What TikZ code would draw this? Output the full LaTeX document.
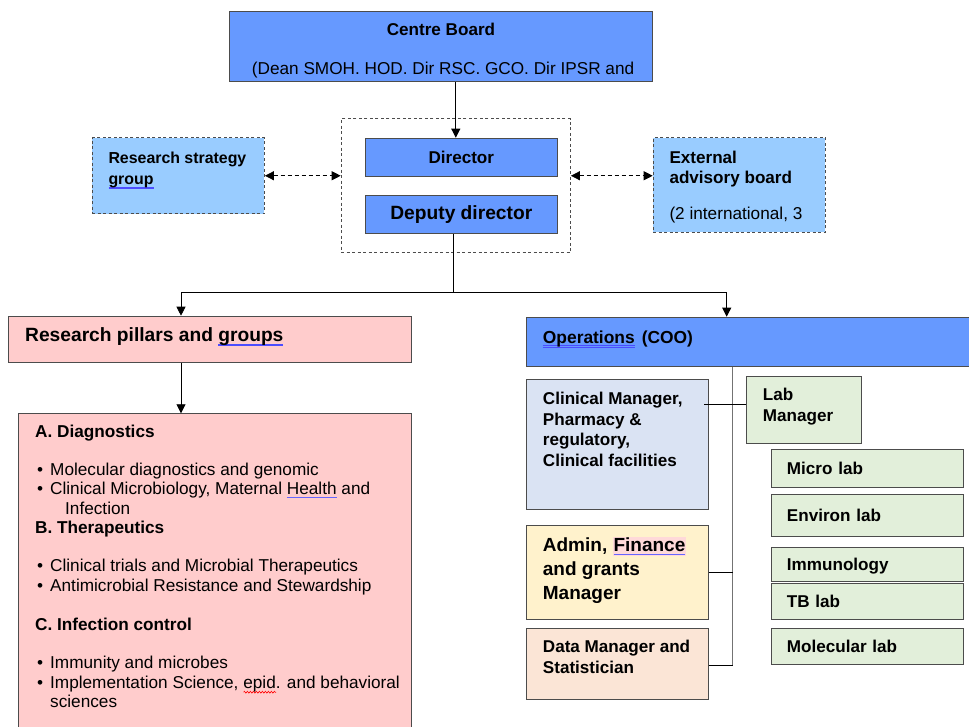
\documentclass[tikz,border=0pt]{standalone}
\usepackage{fontspec}
\setmainfont{Liberation Sans}
\usetikzlibrary{arrows.meta,decorations.pathmorphing}

\definecolor{orgblue}{HTML}{6699FF}
\definecolor{orgsky}{HTML}{99CCFF}
\definecolor{orgpink}{HTML}{FFCCCC}
\definecolor{orgslate}{HTML}{DAE3F3}
\definecolor{orggreen}{HTML}{E2EFDA}
\definecolor{orgcream}{HTML}{FFF2CC}
\definecolor{orgpeach}{HTML}{FBE5D6}

\newsavebox\spellbox
\newcommand\spellul[1]{\sbox\spellbox{#1}\rlap{\textcolor{blue!70}{\rule[-2.6pt]{\wd\spellbox}{0.6pt}\llap{\rule[-4.2pt]{\wd\spellbox}{0.6pt}}}}\usebox\spellbox}
\newcommand\spellone[1]{\sbox\spellbox{#1}\rlap{\textcolor{blue!60}{\rule[-3pt]{\wd\spellbox}{0.8pt}}}\usebox\spellbox}
\newcommand\spellwave[1]{\sbox\spellbox{#1}\rlap{\tikz[baseline=0pt]\draw[red, line width=0.6pt, decorate,
  decoration={zigzag, amplitude=0.9pt, segment length=3pt}] (0pt,-4pt) -- (\wd\spellbox,-4pt);}\usebox\spellbox}
\newcommand\orgitem{\hspace*{2pt}\makebox[13pt][l]{\textbullet}}

\begin{document}
\begin{tikzpicture}[x=1pt, y=-1pt,
  orgbox/.style = {draw=black!70, line width=0.9pt, inner sep=0pt, anchor=north west},
  orgdash/.style = {orgbox, dash pattern=on 3pt off 2.5pt},
  orgtxt/.style = {anchor=base west, inner sep=0pt, align=left, font=\bfseries\fontsize{17.1}{21}\selectfont},
  orgplain/.style = {orgtxt, font=\fontsize{17.2}{19.5}\selectfont},
  orgbig/.style = {orgtxt, font=\bfseries\fontsize{19.2}{24}\selectfont},
  orglab/.style = {orgbox, fill=orggreen, minimum width=192.3, text width=161.3, inner xsep=15.5pt,
    align=left, text height=12pt, text depth=0pt, font=\bfseries\fontsize{17.1}{21}\selectfont},
  orgarrow/.style = {-{Triangle[length=9pt,width=9pt]}, line width=0.8pt},
  orglink/.style = {line width=0.8pt},
  orgdlink/.style = {{Triangle[length=9pt,width=9pt]}-{Triangle[length=9pt,width=9pt]},
    line width=0.8pt, dash pattern=on 4pt off 3pt}
]
  \useasboundingbox (0,0) rectangle (969,726);
  \clip (0,0) rectangle (969,726);
  % board
  \node[orgbox, fill=orgblue, minimum width=422.7, minimum height=70.6] (board) at (229.3,10.7) {};
  \node[orgtxt, anchor=base] (boardname) at (441,35.5) {Centre Board};
  \node[orgplain] (boardlist) at (251.7,74) {(Dean SMOH. HOD. Dir RSC. GCO. Dir IPSR and};
  % directors
  \node[orgdash, minimum width=229.3, minimum height=134] (lead) at (340.7,118.3) {};
  \node[orgbox, fill=orgblue, minimum width=191.7, minimum height=38.3,
    font=\bfseries\fontsize{17.1}{21}\selectfont] (dir) at (365,137.7) {Director};
  \node[orgbox, fill=orgblue, minimum width=191.7, minimum height=38.3,
    font=\bfseries\fontsize{19.2}{24}\selectfont] (dep) at (365,195) {Deputy director};
  \draw[orgarrow] (board.south -| lead.north) -- (lead.north |- dir.north);
  % side groups (multi-line texts sit on their last baseline)
  \node[orgdash, fill=orgsky, minimum width=172.3, minimum height=76] (strategy) at (91.7,137.3) {};
  \node[orgtxt, font=\bfseries\fontsize{15.9}{21}\selectfont] (strategytxt) at (108.3,184.5)
    {Research strategy\\\spellul{group}};
  \node[orgdash, fill=orgsky, minimum width=172.3, minimum height=94.4] (advisory) at (652.7,137.3) {};
  \node[orgtxt, font=\bfseries\fontsize{17.1}{19.5}\selectfont] (advisorytxt) at (669.3,183)
    {External\\advisory board};
  \node[orgplain] (advisorynote) at (669.3,219) {(2 international, 3};
  \draw[orgdlink] (strategy.east) -- (strategy.east -| lead.west);
  \draw[orgdlink] (lead.east |- strategy.east) -- (strategy.east -| advisory.west);
  % split to pillars and operations
  \coordinate (split) at (453.5,292);
  \coordinate (lefttap) at (181,292);
  \coordinate (righttap) at (726.7,292);
  \draw[orglink] (dep.south -| split) -- (split);
  \draw[orglink] (lefttap) -- (righttap);
  % research pillars
  \node[orgbox, fill=orgpink, minimum width=402.4, minimum height=46] (pillars) at (8.3,315.7) {};
  \node[orgbig] (pillarstxt) at (25,341.7) {Research pillars and \spellul{groups}};
  \node[orgbox, fill=orgpink, minimum width=393, minimum height=330] (groups) at (17.7,413.3) {};
  \node[orgplain] (groupstxt) at (35,707.7) {%
    \textbf{A. Diagnostics}\\[17.8pt]
    \orgitem Molecular diagnostics and genomic\\
    \orgitem Clinical Microbiology, Maternal \spellone{Health} and\\
    \hspace*{30pt}Infection\\
    \textbf{B. Therapeutics}\\[18.8pt]
    \orgitem Clinical trials and Microbial Therapeutics\\
    \orgitem Antimicrobial Resistance and Stewardship\\[19.5pt]
    \textbf{C. Infection control}\\[18.8pt]
    \orgitem Immunity and microbes\\
    \orgitem Implementation Science, \spellwave{epid}. and behavioral\\
    \hspace*{15pt}sciences};
  \draw[orgarrow] (lefttap) -- (lefttap |- pillars.north);
  \draw[orgarrow] (pillars.south -| lefttap) -- (lefttap |- groups.north);
  % operations
  \node[orgbox, fill=orgblue, minimum width=460, minimum height=49] (ops) at (526,316.7) {};
  \node[orgtxt, font=\bfseries\fontsize{17.4}{21}\selectfont] (opstxt) at (542.7,343)
    {\spellul{Operations}\hspace{7pt}(COO)};
  \draw[orgarrow] (righttap) -- (righttap |- ops.north);
  \node[orgbox, fill=orgslate, minimum width=181.7, minimum height=130] (clinical) at (526,379.3) {};
  \node[orgtxt, font=\bfseries\fontsize{17.1}{20.8}\selectfont] (clinicaltxt) at (542.7,466.7)
    {Clinical Manager,\\Pharmacy \&\\regulatory,\\Clinical facilities};
  \node[orgbox, fill=orgcream, minimum width=181.7, minimum height=94] (admin) at (526,525.3) {};
  \node[orgbig, font=\bfseries\fontsize{19}{23.7}\selectfont] (admintxt) at (542.7,599)
    {Admin, {\setlength\fboxsep{1pt}\colorbox{red!15}{\spellone{Finance}}}\\and grants\\Manager};
  \node[orgbox, fill=orgpeach, minimum width=181.7, minimum height=71.3] (data) at (526,627.7) {};
  \node[orgtxt] (datatxt) at (542.7,673.3) {Data Manager and\\Statistician};
  % labs
  \node[orgbox, fill=orggreen, minimum width=115, minimum height=66.7] (labmgr) at (746,376) {};
  \node[orgtxt, font=\bfseries\fontsize{17.1}{21.7}\selectfont] (labmgrtxt) at (762.7,421.7) {Lab\\Manager};
  \node[orglab, minimum height=38.3] (micro) at (771,449) {Micro lab};
  \node[orglab, minimum height=41.7] (environ) at (771,494.3) {Environ lab};
  \node[orglab, minimum height=34.6] (immuno) at (771,546.7) {Immunology};
  \node[orglab, minimum height=36] (tb) at (771,583.3) {TB lab};
  \node[orglab, minimum height=36.6] (molecular) at (771,627.7) {Molecular lab};
  % operations bus
  \coordinate (opsbus) at (732.7,0);
  \coordinate (labtap) at ([yshift=5pt]labmgr.west);
  \coordinate (clinicaltap) at ([xshift=-4.5pt]clinical.east);
  \draw[orglink, draw=black!55] (ops.south -| opsbus) -- (opsbus |- molecular.south);
  \draw[orglink] (clinicaltap |- labtap) -- (labtap);
  \draw[orglink] (admin.east) -- (admin.east -| opsbus);
  \draw[orglink] (molecular.south -| data.east) -- (opsbus |- molecular.south);
\end{tikzpicture}
\end{document}
